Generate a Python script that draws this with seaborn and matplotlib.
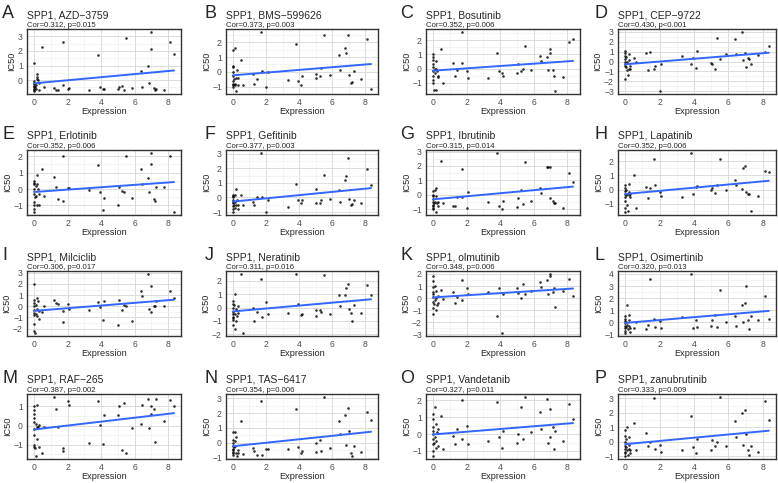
import matplotlib
matplotlib.use('Agg')
import matplotlib.pyplot as plt
import seaborn as sns
import pandas as pd
from matplotlib.ticker import MultipleLocator, AutoMinorLocator

# Shared SPP1 expression values (same cell lines in every panel)
expression = [0, 0, 0, 0, 0, 0, 0, 0, 0.02, 0.05, 0.1, 0.1, 0.15, 0.2, 0.2, 0.25, 0.3, 0.3,
              0.5, 0.6, 1.2, 1.3, 1.45, 1.7, 1.75, 2.0, 2.1, 3.3, 3.8, 3.95, 4.1, 4.2,
              5.0, 5.05, 5.25, 5.35, 5.5, 5.85, 6.4, 6.45, 6.8, 6.85, 6.95, 7.0, 7.15,
              7.2, 7.3, 7.75, 8.1, 8.35]

letters = list('ABCDEFGHIJKLMNOP')
drugs = ['AZD\u22123759', 'BMS\u2212599626', 'Bosutinib', 'CEP\u22129722',
         'Erlotinib', 'Gefitinib', 'Ibrutinib', 'Lapatinib',
         'Milciclib', 'Neratinib', 'olmutinib', 'Osimertinib',
         'RAF\u2212265', 'TAS\u22126417', 'Vandetanib', 'zanubrutinib']
stats = ['Cor=0.312, p=0.015', 'Cor=0.373, p=0.003', 'Cor=0.352, p=0.006', 'Cor=0.430, p<0.001',
         'Cor=0.352, p=0.006', 'Cor=0.377, p=0.003', 'Cor=0.315, p=0.014', 'Cor=0.352, p=0.006',
         'Cor=0.306, p=0.017', 'Cor=0.311, p=0.016', 'Cor=0.348, p=0.006', 'Cor=0.320, p=0.013',
         'Cor=0.387, p=0.002', 'Cor=0.354, p=0.006', 'Cor=0.327, p=0.011', 'Cor=0.333, p=0.009']

ic50_azd3759 = [1.2, -0.05, -0.3, -0.4, -0.5, -0.6, -0.7, -0.75, -0.2, -0.5, -0.35, -0.6, 0.1, 0.4, 0.2, 0.0, -0.2, -0.7,
                2.25, -0.45, -0.55, -0.65, -0.65, 2.6, -0.35, -0.6, -0.55, -0.65, 1.7, -0.45, -0.6, -0.6,
                -0.6, -0.45, -0.4, -0.65, 2.9, -0.55, 0.6, -0.45, 0.95, -0.2, 2.1, 3.3, -0.55, -0.65, -0.6, -0.7, 2.6, 1.8]
ic50_bms599626 = [1.5, 0.4, 0.3, 0.0, -0.3, -0.6, -0.8, -0.9, -1.0, -0.5, -0.8, 1.6, -0.9, -1.3, -0.4, 0.1, -0.45, -0.9,
                  0.8, -0.9, -0.15, -0.8, -0.5, 2.7, 0.05, -1.0, 0.0, -0.55, 1.9, -0.6, -0.9, -0.3,
                  -0.15, -0.45, -0.3, 0.25, 2.5, -0.2, 1.15, 0.15, 1.6, 1.3, 2.5, -0.2, -0.75, -0.7, 0.05, -0.5, 2.25, -1.15]
ic50_bosutinib = [1.0, 0.8, 0.6, 0.3, 0.1, -0.2, -0.5, -0.8, -1.0, -1.5, 0.0, -0.3, -1.5, 0.5, 0.0, -0.2, -0.5, -0.6,
                  1.4, -1.0, 0.4, -0.5, -0.1, 2.6, 0.4, -0.2, -0.7, -0.7, 1.1, -0.2, -0.3, -0.5,
                  -0.3, 0.3, -0.2, 0.0, 1.6, -0.1, 0.9, 0.5, 0.8, -0.1, 1.4, 1.1, -0.1, -0.5, -1.6, -0.6, 1.9, 2.1]
ic50_cep9722 = [1.1, 0.9, 0.6, 0.3, 0.0, -0.3, -0.5, -1.8, -0.6, 0.5, -0.1, -0.9, -1.4, 0.2, -0.8, 0.8, -0.8, -0.5,
                0.4, 0.0, 0.9, -0.9, 1.0, -0.8, -0.5, -3.0, -0.3, 0.6, -0.3, 0.4, -0.7, 1.1,
                -0.2, -0.3, -0.8, 2.4, 0.3, 0.8, 2.3, 0.8, 3.0, 0.2, 0.9, -0.6, 0.4, 0.3, -0.3, 0.7, 1.0, 1.6]
ic50_erlotinib = [0.5, 0.3, 0.0, -0.3, -0.8, -1.0, -1.2, -1.4, 0.4, -0.5, 0.2, -0.4, 0.85, -1.0, 0.3, 0.0, -0.3, -1.0,
                  1.2, -0.4, 0.75, 0.1, -0.6, 2.0, -0.7, 0.05, 0.05, -0.05, 1.45, -0.15, -1.3, -0.55,
                  -0.95, 0.15, -0.1, -0.15, 2.0, -0.55, 1.2, 0.3, 0.65, -0.2, 1.55, 2.2, -0.6, -0.75, 0.15, 0.1, 2.0, -1.4]
ic50_gefitinib = [0.2, 0.0, -0.2, -0.4, -0.6, -0.8, -1.0, -0.3, 0.1, -0.5, 0.2, -0.7, -0.3, 0.6, -0.5, -0.2, -0.5, -0.8,
                  0.2, -0.5, -0.3, -0.5, 0.05, 3.05, 0.05, -1.0, -0.2, -0.65, 0.9, -0.2, -0.35, -0.2,
                  0.6, -0.4, -0.35, -0.15, 1.55, -0.1, 0.5, -0.3, 1.2, 1.5, 2.7, -0.1, -0.5, -0.45, -0.15, -0.35, 1.95, 0.85]
ic50_ibrutinib = [0.25, 0.0, -0.3, -0.5, -0.7, -0.9, -1.0, -0.8, -0.1, -0.6, 0.3, -0.5, -1.2, 0.5, -0.1, -0.6, -0.8, -0.5,
                  2.35, -0.55, -0.8, -0.8, -0.15, 1.8, -0.15, -0.95, 0.2, -0.5, 2.9, -0.8, -1.0, -0.45,
                  -0.85, -0.2, 0.35, -0.65, 2.3, -0.45, 0.5, 0.1, 1.9, 1.95, 1.95, -0.2, -0.4, -0.6, -0.55, -0.95, 1.5, 0.9]
ic50_lapatinib = [0.3, 0.1, -0.1, -0.3, -0.5, -0.8, -1.3, -1.6, -0.4, 0.0, -1.1, -0.3, -1.5, 0.4, -0.4, -0.2, -0.5, -0.3,
                  1.0, -1.3, 0.15, -0.6, 0.1, 2.2, 0.3, -0.2, -0.45, -0.5, 2.6, -0.35, 0.2, 0.25,
                  -0.05, 0.1, -0.25, 0.3, 2.2, 0.0, 0.7, 0.3, 0.05, 1.5, 1.65, -0.15, -0.3, -0.35, -1.5, -0.45, 1.3, 1.25]
ic50_milciclib = [2.0, 0.6, 0.3, 0.0, -0.3, -0.6, -0.8, -1.6, -2.2, -2.4, 0.1, -0.7, -0.2, 0.7, -0.9, 0.5, -1.1, -0.4,
                  -0.5, 0.0, 0.6, 0.3, 0.25, -1.4, -0.4, 0.25, -0.2, -0.3, 0.4, -0.05, -1.2, 0.5,
                  -1.7, 0.55, -0.3, 0.1, 0.05, -1.3, 1.4, 0.9, 2.9, -0.2, 1.8, -0.5, 0.0, 0.05, 0.5, 0.0, 1.4, 0.7]
ic50_neratinib = [0.5, 0.3, 0.0, -0.3, -0.5, -0.7, -0.8, -0.9, -1.3, 0.2, -1.6, 1.0, -0.5, -0.1, -1.0, -0.6, 0.1, -0.4,
                  2.5, -1.9, -0.05, -1.0, -0.3, 2.1, -0.7, 0.4, -0.5, -0.4, 2.5, 0.25, -0.55, -0.45,
                  -0.6, -0.2, -0.2, -0.35, 2.4, -0.5, 0.95, 0.15, 0.9, 1.45, 1.75, -0.1, -0.4, -1.0, 0.2, -0.4, 1.7, 0.95]
ic50_olmutinib = [1.8, 1.4, 0.9, 0.5, 0.1, -0.3, -0.8, -1.3, 0.3, -0.5, 1.0, -0.2, -1.0, 0.6, 0.0, -0.6, 0.2, -0.4,
                  0.7, -0.1, 0.5, -0.4, 0.1, 1.5, -0.2, 0.8, 0.3, 0.5, -1.5, 0.8, -2.9, 0.3,
                  0.8, 0.4, 0.0, 1.2, 0.3, 0.6, 1.3, 0.9, 1.5, 0.3, 2.0, 1.8, 0.5, 0.8, -0.7, 0.6, 1.6, 0.2]
ic50_osimertinib = [0.5, 0.3, 0.1, -0.1, -0.3, -0.5, -0.7, -0.9, 0.0, -0.4, 1.4, -0.2, -0.6, 0.6, -0.3, 0.2, -0.5, -0.8,
                    -0.5, 0.0, -0.6, -0.2, 3.6, 0.3, -0.4, 0.1, -0.5, 0.4, 4.0, -0.5, 0.2, -0.4,
                    -0.3, 0.2, 0.6, -0.4, 2.7, 0.0, 0.5, -0.3, 1.4, 0.0, 1.6, 3.0, 0.2, -0.6, 0.5, 0.2, 2.2, 0.3]
ic50_raf265 = [1.0, 0.8, 0.6, 0.4, 0.2, -0.2, -0.5, -1.0, -1.1, -1.2, -1.6, 0.1, -0.7, 1.1, -0.1, -0.1, -1.1, 0.05,
               -1.45, -0.05, 1.5, 0.85, -0.05, -1.2, -1.35, 1.3, 1.1, -0.9, 1.3, 0.05, -0.95, 0.55,
               0.55, 1.05, -1.3, 1.2, -1.45, -0.15, 0.1, 1.1, 1.4, -0.15, 1.0, 0.6, 0.85, -0.85, 1.4, 0.25, 1.35, 1.0]
ic50_tas6417 = [0.75, 0.2, 0.0, -0.2, -0.4, -0.5, -0.6, -0.7, -0.8, -0.3, -0.2, 0.7, 0.1, 0.4, -0.7, -0.9, -0.5, -0.7,
                1.45, -0.75, -0.35, -0.55, -0.8, 2.8, -0.8, -0.4, -0.4, -0.45, 2.3, -0.3, -0.7, -0.55,
                -0.6, 0.0, 0.2, -0.55, 3.1, -0.35, 1.5, 0.6, 1.85, -0.15, 2.35, 0.8, -0.7, -0.9, -0.2, -0.6, 2.05, 1.55]
ic50_vandetanib = [1.2, 0.9, 0.4, 0.0, -0.3, -0.6, -1.0, -1.3, 0.2, -0.5, 1.6, -0.2, -0.8, 0.6, -0.4, 0.1, -0.7, 0.3,
                   1.1, -0.9, -0.1, -0.6, 0.3, 2.0, -0.3, 0.5, -0.6, -0.4, 1.9, -0.2, -0.8, 0.2,
                   -0.5, 0.0, 1.6, -0.3, 2.2, 0.1, 1.3, 0.3, 2.1, -0.5, 1.5, -0.2, 0.4, -0.9, 0.2, -0.4, 1.8, 0.9]
ic50_zanubrutinib = [0.8, 0.4, 0.0, -0.3, -0.5, -0.7, -0.8, -1.0, -0.4, 0.2, -0.6, 1.0, -0.9, 0.3, -0.2, -0.5, -0.8, -0.6,
                     1.3, -0.6, 0.6, -0.3, 0.0, 3.0, -0.5, -0.2, -0.7, -0.6, 1.8, -0.4, -0.8, 0.2,
                     -0.6, 0.1, -0.3, 0.0, 3.1, -0.3, 1.4, 0.3, 2.0, -0.2, 2.2, 0.5, -0.6, -0.9, -0.3, -0.7, 2.8, 1.5]

ic50_all = [ic50_azd3759, ic50_bms599626, ic50_bosutinib, ic50_cep9722,
            ic50_erlotinib, ic50_gefitinib, ic50_ibrutinib, ic50_lapatinib,
            ic50_milciclib, ic50_neratinib, ic50_olmutinib, ic50_osimertinib,
            ic50_raf265, ic50_tas6417, ic50_vandetanib, ic50_zanubrutinib]

sns.set_style('white')
plt.rcParams['font.family'] = ['Liberation Sans', 'DejaVu Sans']

W, H = 778, 483
fig = plt.figure(figsize=(W / 100, H / 100), dpi=100)

# panel geometry in pixels
col_left = [27, 226, 426, 618]
col_right = [181, 378, 580, 776]
letter_x = [2, 205, 400, 595]
row_top = [29, 150, 271, 394]
ph = 65

for i in range(16):
    r, c = divmod(i, 4)
    L, R, T = col_left[c], col_right[c], row_top[r]
    ax = fig.add_axes([L / W, 1 - (T + ph) / H, (R - L) / W, ph / H])
    df = pd.DataFrame({'Expression': expression, 'IC50': ic50_all[i]})
    sns.regplot(data=df, x='Expression', y='IC50', ax=ax, ci=None,
                scatter_kws={'s': 3.5, 'color': 'black', 'linewidths': 0},
                line_kws={'color': '#3366FF', 'lw': 1.4})
    ax.margins(0.05)
    ax.xaxis.set_major_locator(MultipleLocator(2))
    ax.xaxis.set_minor_locator(MultipleLocator(1))
    ax.yaxis.set_major_locator(MultipleLocator(1))
    ax.yaxis.set_minor_locator(AutoMinorLocator(2))
    ax.grid(which='major', color='#DCDCDC', lw=0.7)
    ax.grid(which='minor', color='#EDEDED', lw=0.4)
    ax.set_axisbelow(True)
    for s in ax.spines.values():
        s.set_color('#333333')
        s.set_linewidth(1.0)
    ax.tick_params(which='major', length=2, width=0.5, color='#4D4D4D',
                   labelsize=6.2, labelcolor='#4D4D4D', pad=1)
    ax.tick_params(which='minor', length=0)
    ax.set_xlabel('Expression', fontsize=6.6, labelpad=0)
    ax.set_ylabel('IC50', fontsize=6.6, labelpad=1)

    fig.text(letter_x[c] / W, 1 - (T - 11) / H, letters[i], fontsize=13, va='baseline', ha='left')
    fig.text(L / W, 1 - (T - 11) / H, 'SPP1, ' + drugs[i], fontsize=7.5, va='baseline', ha='left')
    fig.text(L / W, 1 - (T - 2) / H, stats[i], fontsize=5.6, va='baseline', ha='left')

fig.savefig('out.png', dpi=100)
